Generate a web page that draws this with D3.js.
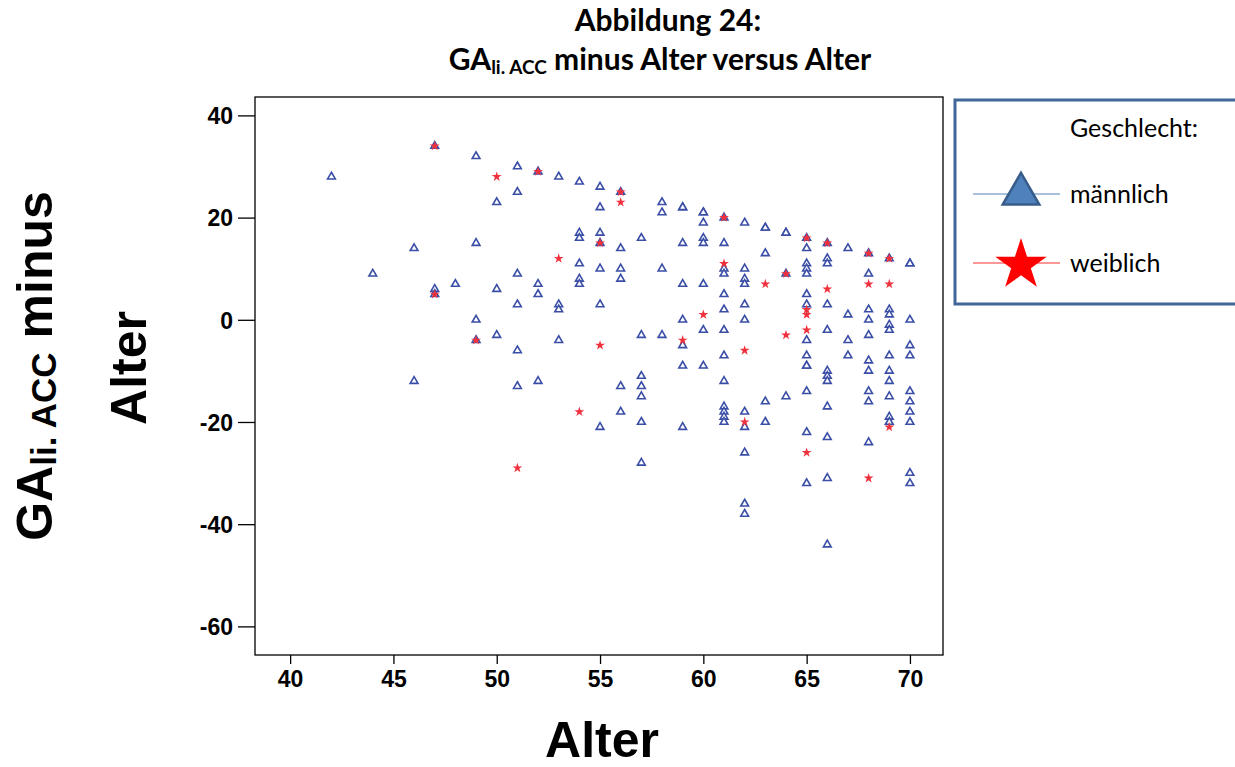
<!DOCTYPE html>
<html><head><meta charset="utf-8">
<script src="https://cdn.jsdelivr.net/npm/d3@7"></script>
<style>body{margin:0;background:#fff}svg{display:block}</style>
</head><body>
<svg id="c" width="1235" height="767"></svg>
<script>
// ---- data ----
const maleAge = [42,44,46,46,47,47,47,48,49,49,49,49,50,50,50,
 51,51,51,51,51,51,52,52,52,52,53,53,53,53,54,54,54,54,54,54,
 55,55,55,55,55,55,55,56,56,56,56,56,56,57,57,57,57,57,57,57,
 58,58,58,58,59,59,59,59,59,59,59,59,60,60,60,60,60,60,60,60,
 61,61,61,61,61,61,61,61,61,61,61,61,61,
 62,62,62,62,62,62,62,62,62,62,62,63,63,63,63,63,64,64,64,64,
 65,65,65,65,65,65,65,65,65,65,65,65,65,65,
 66,66,66,66,66,66,66,66,66,66,66,66,67,67,67,67,
 68,68,68,68,68,68,68,68,68,68,69,69,69,69,69,69,69,69,69,69,69,
 70,70,70,70,70,70,70,70,70,70,70];
const maleDiff = [28,9,14,-12,34,6,5,7,32,15,0,-4,23,6,-3,
 30,25,9,3,-6,-13,29,7,5,-12,28,3,2,-4,27,17,16,11,8,7,
 26,22,17,15,10,3,-21,25,14,10,8,-13,-18,16,-3,-11,-13,-15,-20,-28,
 23,21,10,-3,22,22,15,7,0,-5,-9,-21,21,21,19,16,15,7,-2,-9,
 20,15,10,9,5,2,-2,-7,-12,-17,-18,-19,-20,
 19,10,8,7,3,0,-18,-21,-26,-36,-38,18,18,13,-16,-20,17,17,9,-15,
 16,14,11,10,9,5,3,-4,-7,-9,-9,-14,-22,-32,
 15,12,11,3,-2,-10,-11,-12,-17,-23,-31,-44,14,1,-4,-7,
 13,9,2,0,-3,-8,-10,-14,-16,-24,12,2,1,-1,-2,-7,-10,-12,-15,-19,-20,
 11,11,0,-5,-7,-14,-16,-18,-20,-30,-32];
const femaleAge = [47,47,49,50,51,52,53,54,55,55,56,56,59,60,61,61,62,62,63,64,64,65,65,65,65,65,66,66,68,68,68,69,69,69];
const femaleDiff = [34,5,-4,28,-29,29,12,-18,15,-5,25,23,-4,1,20,11,-6,-20,7,9,-3,16,2,1,-2,-26,15,6,13,7,-31,12,7,-21];
const xTicks = [40,45,50,55,60,65,70];
const yTicks = [40,20,0,-20,-40,-60];
const legendLabels = ["männlich","weiblich"];

// ---- layout ----
const svg = d3.select("#c");
const L = 255, R = 943, T = 97, B = 655;
const x = d3.scaleLinear().domain([38.3, 71.6]).range([L, R]);
const y = d3.scaleLinear().domain([43.6, -65.6]).range([T, B]);

// frame
svg.append("rect").attr("x", L).attr("y", T).attr("width", R - L).attr("height", B - T)
  .attr("fill", "none").attr("stroke", "#000").attr("stroke-width", 1.3);

// axes
const fmt = d => String(d);
const yAx = svg.append("g").attr("transform", `translate(${L},0)`)
  .call(d3.axisLeft(y).tickValues(yTicks).tickSize(17).tickPadding(5).tickFormat(fmt));
const xAx = svg.append("g").attr("transform", `translate(0,${B})`)
  .call(d3.axisBottom(x).tickValues(xTicks).tickSize(9).tickPadding(7).tickFormat(fmt));
[yAx, xAx].forEach(g => {
  g.select(".domain").remove();
  g.selectAll("line").attr("stroke", "#000").attr("stroke-width", 1.3);
  g.selectAll("text").attr("font-family", "Liberation Sans, Arial, sans-serif")
    .attr("font-weight", "bold").attr("font-size", 23).attr("fill", "#000");
});
yAx.selectAll("text").attr("dy", "0.36em");

// points
const males = maleAge.map((a, i) => ({a, v: maleDiff[i]}));
const females = femaleAge.map((a, i) => ({a, v: femaleDiff[i]}));
const tri = d3.symbol().type(d3.symbolTriangle).size(26);
const star = d3.symbol().type(d3.symbolStar).size(30);
svg.append("g").selectAll("path").data(males).join("path")
  .attr("d", tri).attr("transform", d => `translate(${x(d.a)},${y(d.v)})`)
  .attr("fill", "#fff").attr("stroke", "#3a4ea6").attr("stroke-width", 1.6);
svg.append("g").selectAll("path").data(females).join("path")
  .attr("d", star).attr("transform", d => `translate(${x(d.a)},${y(d.v)})`)
  .attr("fill", "#f0303c").attr("stroke", "none");

// title
const tf = "Lato, 'Open Sans', sans-serif";
svg.append("text").attr("x", 668).attr("y", 31).attr("text-anchor", "middle")
  .attr("font-family", tf).attr("font-weight", "bold").attr("font-size", 30).text("Abbildung 24:");
const t2 = svg.append("text").attr("x", 660).attr("y", 70).attr("text-anchor", "middle")
  .attr("font-family", tf).attr("font-weight", "bold").attr("font-size", 30);
t2.append("tspan").text("GA");
t2.append("tspan").attr("font-size", 19).attr("dy", 4).text("li. ACC");
t2.append("tspan").attr("dy", -4).text(" minus Alter versus Alter");

// axis titles
const af = "Liberation Sans, Arial, sans-serif";
svg.append("text").attr("x", 602).attr("y", 757).attr("text-anchor", "middle")
  .attr("font-family", af).attr("font-weight", "bold").attr("font-size", 50).text("Alter");
const yt1 = svg.append("text").attr("transform", "translate(52,366) rotate(-90)").attr("text-anchor", "middle")
  .attr("font-family", af).attr("font-weight", "bold").attr("font-size", 50);
yt1.append("tspan").text("GA");
yt1.append("tspan").attr("font-size", 35).attr("dy", 4).text("li. ACC");
yt1.append("tspan").attr("dy", -4).text(" minus");
svg.append("text").attr("transform", "translate(146,368) rotate(-90)").attr("text-anchor", "middle")
  .attr("font-family", af).attr("font-weight", "bold").attr("font-size", 50).text("Alter");

// legend
const lg = svg.append("g");
lg.append("rect").attr("x", 955).attr("y", 100).attr("width", 300).attr("height", 204)
  .attr("fill", "#fff").attr("stroke", "#41669a").attr("stroke-width", 3);
lg.append("text").attr("x", 1070).attr("y", 137).attr("font-family", tf).attr("font-size", 25).text("Geschlecht:");
const ly = [194, 263];
lg.append("line").attr("x1", 973).attr("x2", 1060).attr("y1", ly[0]).attr("y2", ly[0]).attr("stroke", "#4f81bd").attr("stroke-width", 1);
lg.append("line").attr("x1", 973).attr("x2", 1060).attr("y1", ly[1]).attr("y2", ly[1]).attr("stroke", "#ff3030").attr("stroke-width", 1);
lg.append("path").attr("d", d3.symbol().type(d3.symbolTriangle).size(580)())
  .attr("transform", `translate(1021,${ly[0]})`).attr("fill", "#4f81bd").attr("stroke", "#385d8a").attr("stroke-width", 2.5);
lg.append("path").attr("d", d3.symbol().type(d3.symbolStar).size(820)())
  .attr("transform", `translate(1021,${ly[1] + 2})`).attr("fill", "#ff0000");
lg.selectAll("text.lab").data(legendLabels).join("text").attr("class", "lab")
  .attr("x", 1070).attr("y", (d, i) => ly[i] + 9).attr("font-family", tf).attr("font-size", 25).text(d => d);
</script>
</body></html>
